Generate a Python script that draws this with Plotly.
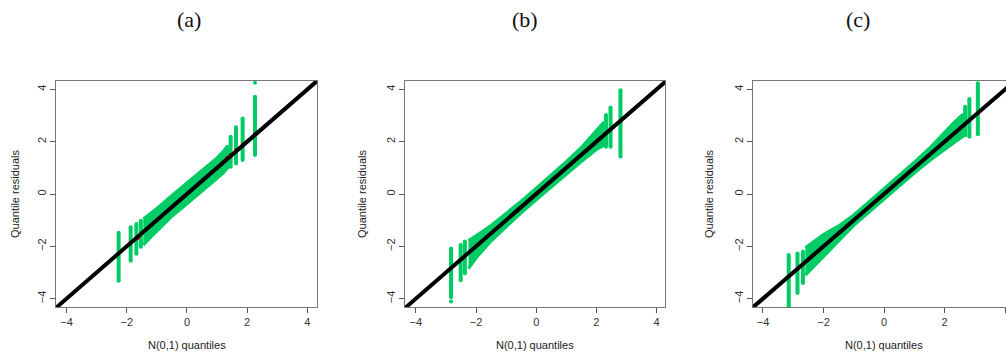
import plotly.graph_objects as go

# ---------------- data ----------------
panel_labels = ["(a)", "(b)", "(c)"]
tick_vals = [-4, -2, 0, 2, 4]
tick_text = ["\u22124", "\u22122", "0", "2", "4"]
identity_ends = [-5, 5]

# panel (a)
a_bar_x = [-2.27, -1.87, -1.68, -1.53, 1.45, 1.63, 1.85, 2.26]
a_bar_lo = [-3.32, -2.55, -2.28, -2.02, 1.04, 1.17, 1.30, 1.49]
a_bar_hi = [-1.48, -1.27, -1.15, -1.02, 2.19, 2.55, 2.89, 3.72]
a_band_x = [-1.45, -1.2, -1.0, -0.5, 0.0, 0.5, 1.0, 1.2, 1.35]
a_band_hi = [-0.95, -0.72, -0.55, -0.05, 0.42, 0.90, 1.38, 1.62, 1.85]
a_band_lo = [-1.95, -1.65, -1.40, -0.85, -0.38, 0.10, 0.60, 0.80, 1.00]
a_out_x = [2.26]
a_out_y = [4.25]
a_red_x = [-1.62, -1.34, 1.32, 1.45, 1.63, 1.85, 2.26]
a_red_y = [-1.69, -1.38, 1.40, 1.52, 1.70, 1.92, 2.32]

# panel (b)
b_bar_x = [-2.83, -2.51, -2.37, 2.32, 2.47, 2.80]
b_bar_lo = [-3.95, -3.30, -3.03, 1.81, 1.81, 1.43]
b_bar_hi = [-2.08, -1.95, -1.82, 3.02, 3.31, 3.97]
b_band_x = [-2.25, -2.0, -1.5, -1.0, -0.5, 0.0, 0.5, 1.0, 1.5, 2.0, 2.25]
b_band_hi = [-1.78, -1.60, -1.20, -0.75, -0.27, 0.22, 0.72, 1.24, 1.78, 2.40, 2.75]
b_band_lo = [-2.85, -2.45, -1.80, -1.25, -0.72, -0.22, 0.28, 0.76, 1.24, 1.70, 1.85]
b_out_x = [-2.83]
b_out_y = [-4.11]
b_red_x = [2.47, 2.80]
b_red_y = [2.45, 2.78]

# panel (c)
c_bar_x = [-3.15, -2.86, -2.68, 2.68, 2.82, 3.10]
c_bar_lo = [-4.31, -3.78, -3.40, 2.25, 2.19, 2.28]
c_bar_hi = [-2.33, -2.27, -2.20, 3.34, 3.63, 4.23]
c_band_x = [-2.6, -2.3, -2.0, -1.5, -1.0, -0.5, 0.0, 0.5, 1.0, 1.5, 2.0, 2.3, 2.6]
c_band_hi = [-2.05, -1.80, -1.55, -1.22, -0.80, -0.30, 0.20, 0.70, 1.22, 1.75, 2.38, 2.72, 3.05]
c_band_lo = [-3.10, -2.75, -2.38, -1.80, -1.20, -0.68, -0.20, 0.30, 0.80, 1.27, 1.70, 1.95, 2.20]
c_out_x = []
c_out_y = []
c_red_x = [2.82, 3.10]
c_red_y = [2.80, 3.07]

panels = [
    dict(bx=a_bar_x, blo=a_bar_lo, bhi=a_bar_hi, sx=a_band_x, shi=a_band_hi, slo=a_band_lo,
         ox=a_out_x, oy=a_out_y, rx=a_red_x, ry=a_red_y),
    dict(bx=b_bar_x, blo=b_bar_lo, bhi=b_bar_hi, sx=b_band_x, shi=b_band_hi, slo=b_band_lo,
         ox=b_out_x, oy=b_out_y, rx=b_red_x, ry=b_red_y),
    dict(bx=c_bar_x, blo=c_bar_lo, bhi=c_bar_hi, sx=c_band_x, shi=c_band_hi, slo=c_band_lo,
         ox=c_out_x, oy=c_out_y, rx=c_red_x, ry=c_red_y),
]

# ---------------- layout constants ----------------
W, H = 1006, 358
GREEN = "#00CC66"
x_domains = [[56 / W, 317 / W], [405 / W, 665 / W], [753 / W, 1.0]]
x_ranges = [[-4.35, 4.32], [-4.36, 4.28], [-4.33, 4.03]]
y_domain = [(H - 307) / H, (H - 81) / H]
y_range = [-4.32, 4.32]
title_x = [189, 525, 858]
ytitle_x = [15, 362, 709]

fig = go.Figure()

for i, p in enumerate(panels):
    xa = "x" if i == 0 else f"x{i+1}"
    ya = "y" if i == 0 else f"y{i+1}"
    # band polygon
    fig.add_trace(go.Scatter(
        x=p["sx"] + p["sx"][::-1], y=p["shi"] + p["slo"][::-1],
        mode="lines", fill="toself", fillcolor=GREEN,
        line=dict(color=GREEN, width=3, shape="linear"), xaxis=xa, yaxis=ya,
        showlegend=False, hoverinfo="skip"))
    # vertical bars (rounded ends via markers)
    sx, sy = [], []
    for bx, lo, hi in zip(p["bx"], p["blo"], p["bhi"]):
        sx += [bx, bx, None]
        sy += [lo, hi, None]
    fig.add_trace(go.Scatter(
        x=sx, y=sy, mode="lines+markers", line=dict(color=GREEN, width=4),
        marker=dict(color=GREEN, size=4),
        xaxis=xa, yaxis=ya, showlegend=False, hoverinfo="skip"))
    if p["ox"]:
        fig.add_trace(go.Scatter(
            x=p["ox"], y=p["oy"], mode="markers",
            marker=dict(color=GREEN, size=4), xaxis=xa, yaxis=ya,
            showlegend=False, hoverinfo="skip"))
    fig.add_trace(go.Scatter(
        x=p["rx"], y=p["ry"], mode="markers",
        marker=dict(color="#FF0000", size=3), xaxis=xa, yaxis=ya,
        showlegend=False, hoverinfo="skip"))
    # identity line
    fig.add_trace(go.Scatter(
        x=identity_ends, y=identity_ends, mode="lines",
        line=dict(color="black", width=4), xaxis=xa, yaxis=ya,
        showlegend=False, hoverinfo="skip"))

    axis_common = dict(
        tickvals=tick_vals, ticktext=tick_text, ticks="outside", ticklen=5,
        tickwidth=1, tickcolor="#555", showline=True, linecolor="#777",
        linewidth=1, showgrid=False, zeroline=False,
        tickfont=dict(family="Liberation Sans, Arial", size=11, color="#333"),
    )
    xkey = "xaxis" if i == 0 else f"xaxis{i+1}"
    ykey = "yaxis" if i == 0 else f"yaxis{i+1}"
    fig.update_layout({
        xkey: dict(domain=x_domains[i], range=x_ranges[i], anchor=ya,
                   mirror=True, **axis_common),
        ykey: dict(domain=y_domain, range=y_range, anchor=xa,
                   mirror=(i < 2), tickangle=-90, **axis_common),
    })
    # panel label
    fig.add_annotation(text=panel_labels[i], x=title_x[i] / W, y=1 - 19 / H,
                       xref="paper", yref="paper", showarrow=False,
                       xanchor="center", yanchor="middle",
                       font=dict(family="Liberation Serif, DejaVu Serif", size=22, color="#111"))
    # x axis title
    xc = (x_domains[i][0] + (x_domains[i][1] if i < 2 else 1015 / W)) / 2
    fig.add_annotation(text="N(0,1) quantiles", x=xc, y=1 - 345 / H,
                       xref="paper", yref="paper", showarrow=False,
                       xanchor="center", yanchor="middle",
                       font=dict(family="Liberation Sans, Arial", size=11, color="#222"))
    # y axis title
    fig.add_annotation(text="Quantile residuals", x=ytitle_x[i] / W, y=1 - 194 / H,
                       xref="paper", yref="paper", showarrow=False, textangle=-90,
                       xanchor="center", yanchor="middle",
                       font=dict(family="Liberation Sans, Arial", size=11, color="#222"))

fig.update_layout(
    width=W, height=H, margin=dict(l=0, r=0, t=0, b=0),
    paper_bgcolor="white", plot_bgcolor="white", showlegend=False,
)

fig.write_html("out.html")
